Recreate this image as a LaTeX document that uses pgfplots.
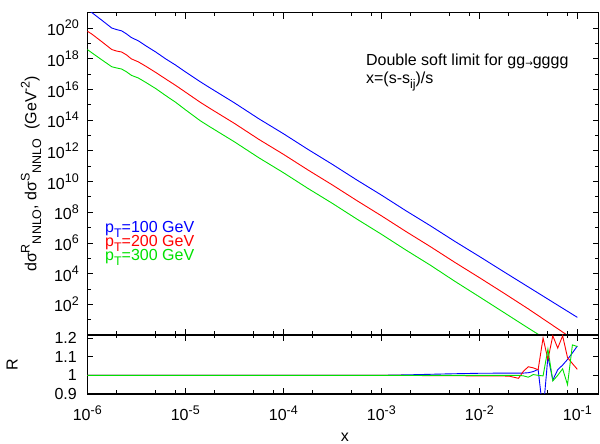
\documentclass[border=0pt]{standalone}
\usepackage{fontspec}
\setmainfont{Liberation Sans}
\newfontfamily\dejavu{DejaVu Sans}
\usepackage{pgfplots}
\pgfplotsset{compat=1.18}
\definecolor{gpblue}{RGB}{0,0,255}
\definecolor{gpred}{RGB}{255,0,0}
\definecolor{gpgreen}{RGB}{0,225,0}
\newcommand\sups[1]{\raisebox{0.42em}{\fontsize{12.5}{12}\selectfont #1}}
\newcommand\subs[1]{\raisebox{-0.3em}{\fontsize{12.5}{12}\selectfont #1}}
\newcommand\tp[1]{10\sups{#1}}
\begin{document}
\fontsize{16}{19}\selectfont
\begin{tikzpicture}
\path[use as bounding box] (0pt,0pt) rectangle (600pt,444pt);
% main panel
\begin{axis}[scale only axis, width=511.2pt, height=322.3pt, at={(87.3pt,109pt)}, anchor=south west,
  xmode=log, ymode=log, xmin=1e-6, xmax=0.1644, ymin=1, ymax=1e21,
  tick align=inside, major tick length=6pt, minor tick length=3.5pt,
  every tick/.style={black, line width=0.8pt},
  axis line style={line width=1.3pt},
  xtick={1e-6,1e-5,1e-4,1e-3,1e-2,1e-1},
  minor xtick={2e-6,5e-6,8e-6,2e-5,5e-5,8e-5,2e-4,5e-4,8e-4,2e-3,5e-3,8e-3,2e-2,5e-2,8e-2},
  xticklabels={},
  ytick={1e2,1e4,1e6,1e8,1e10,1e12,1e14,1e16,1e18,1e20},
  yticklabels={\tp{2},\tp{4},\tp{6},\tp{8},\tp{10},\tp{12},\tp{14},\tp{16},\tp{18},\tp{20}},
  minor ytick={1e1,1e3,1e5,1e7,1e9,1e11,1e13,1e15,1e17,1e19},
  yticklabel style={xshift=-3pt},
  ylabel={dσ\sups{R}\subs{NNLO}, dσ\sups{S}\subs{NNLO}\ \ (GeV\sups{-2})},
  ylabel style={at={(axis description cs:-0.110,0.5)}, anchor=center},
]
\addplot[gpblue, line width=0.9pt] coordinates {
(1e-6,1.7e21) (1.117e-6,1e21) (1.413e-6,3.16e20) (1.778e-6,1e20) (1.995e-6,7.94e19) (2.239e-6,6.6e19) (2.512e-6,4.17e19) (2.818e-6,2.4e19) (3.311e-6,1.48e19) (3.981e-6,6.8e18) (5.012e-6,2.7e18) (6.31e-6,9.8e17) (7.943e-6,3.9e17) (1e-5,1.41e17) (1.422e-5,3.16e16) (1.778e-5,1.29e16) (3.162e-5,1.35e15) (5.623e-5,1.23e14) (1e-4,1.32e13) (1.778e-4,1.26e12) (3.162e-4,1.32e11) (5.623e-4,1.26e10) (1e-3,1.32e9) (1.778e-3,1.26e8) (3.162e-3,1.32e7) (5.623e-3,1.26e6) (1e-2,1.32e5) (1.778e-2,1.32e4) (3.162e-2,1.35e3) (5.623e-2,138) (0.1,14.1)
};
\addplot[gpred, line width=0.9pt] coordinates {
(1e-6,6.3e19) (1.117e-6,3.98e19) (1.413e-6,1.26e19) (1.778e-6,3.98e18) (1.995e-6,3.16e18) (2.239e-6,2.75e18) (2.512e-6,1.78e18) (2.818e-6,9.8e17) (3.311e-6,6.3e17) (3.981e-6,3.16e17) (5.012e-6,1.26e17) (6.31e-6,4.8e16) (7.943e-6,1.86e16) (1e-5,6.8e15) (1.422e-5,1.45e15) (1.778e-5,5.9e14) (3.162e-5,6.2e13) (5.623e-5,5.6e12) (1e-4,6.0e11) (1.778e-4,5.75e10) (3.162e-4,6.0e9) (5.623e-4,5.75e8) (1e-3,5.9e7) (1.778e-3,5.6e6) (3.162e-3,5.75e5) (5.623e-3,5.4e4) (1e-2,5.5e3) (1.778e-2,537) (3.162e-2,50) (5.623e-2,4.2) (0.1,0.35)
};
\addplot[gpgreen, line width=0.9pt] coordinates {
(1e-6,3.98e18) (1.117e-6,2.4e18) (1.413e-6,8.3e17) (1.778e-6,3.0e17) (1.995e-6,2.5e17) (2.239e-6,2.14e17) (2.512e-6,1.41e17) (2.818e-6,8.3e16) (3.311e-6,5.6e16) (3.981e-6,2.8e16) (5.012e-6,1.12e16) (6.31e-6,3.98e15) (7.943e-6,1.48e15) (1e-5,4.8e14) (1.422e-5,9.1e13) (1.778e-5,3.7e13) (3.162e-5,3.9e12) (5.623e-5,3.55e11) (1e-4,3.8e10) (1.778e-4,3.6e9) (3.162e-4,3.8e8) (5.623e-4,3.6e7) (1e-3,3.7e6) (1.778e-3,3.47e5) (3.162e-3,3.55e4) (5.623e-3,3.16e3) (1e-2,309) (1.778e-2,29.5) (3.162e-2,2.8) (5.623e-2,0.28) (0.1,0.028)
};
\node[anchor=base west, inner sep=0pt, text=gpblue] at (rel axis cs:0.0346,0.3174) {p\subs{T}=100 GeV};
\node[anchor=base west, inner sep=0pt, text=gpred] at (rel axis cs:0.0346,0.274) {p\subs{T}=200 GeV};
\node[anchor=base west, inner sep=0pt, text=gpgreen] at (rel axis cs:0.0346,0.2305) {p\subs{T}=300 GeV};
\node[anchor=base west, inner sep=0pt] at (rel axis cs:0.545,0.8377) {Double soft limit for gg\raisebox{-0.12em}{\dejavu\fontsize{9}{9}\selectfont →}gggg};
\node[anchor=base west, inner sep=0pt] at (rel axis cs:0.545,0.7807) {x=(s-s\subs{ij})/s};
\end{axis}
% ratio panel
\begin{axis}[scale only axis, width=511.2pt, height=59pt, at={(87.3pt,50pt)}, anchor=south west,
  xmode=log, xmin=1e-6, xmax=0.1644, ymin=0.9, ymax=1.216,
  tick align=inside, major tick length=6pt, minor tick length=3.5pt,
  every tick/.style={black, line width=0.8pt},
  axis line style={line width=1.3pt},
  xtick={1e-6,1e-5,1e-4,1e-3,1e-2,1e-1},
  minor xtick={2e-6,5e-6,8e-6,2e-5,5e-5,8e-5,2e-4,5e-4,8e-4,2e-3,5e-3,8e-3,2e-2,5e-2,8e-2},
  ytick={0.9,1,1.1,1.2}, yticklabels={0.9,1,1.1,1.2},
  yticklabel style={xshift=-5pt},
  xticklabels={\tp{-6},\tp{-5},\tp{-4},\tp{-3},\tp{-2},\tp{-1}},
  xticklabel style={yshift=-6pt},
  ylabel={R}, ylabel style={at={(axis description cs:-0.147,0.49)}, anchor=center},
  xlabel={x}, xlabel style={at={(axis description cs:0.504,-0.73)}, anchor=center},
]
\addplot[gpblue, line width=0.9pt] coordinates {
(1e-6,1) (1e-3,1.0) (2e-3,1.003) (5e-3,1.008) (1e-2,1.011) (0.0224,1.012) (0.0251,1.012) (0.0282,1.012) (0.0316,1.014) (0.0355,1.02) (0.0398,1.032) (0.0447,0.80) (0.0501,1.10) (0.0562,0.975) (0.0631,1.03) (0.0708,1.055) (0.0794,1.085) (0.0891,1.12) (0.1,1.157)
};
\addplot[gpred, line width=0.9pt] coordinates {
(1e-6,1) (1e-3,1.0) (5e-3,0.998) (1e-2,0.997) (0.02,0.996) (0.0224,0.99) (0.0251,0.984) (0.0282,1.022) (0.0316,1.046) (0.0355,1.04) (0.0398,1.03) (0.0447,1.20) (0.0501,1.085) (0.0562,1.212) (0.0631,1.146) (0.0708,1.212) (0.0794,1.095) (0.0891,1.063) (0.1,1.032)
};
\addplot[gpgreen, line width=0.9pt] coordinates {
(1e-6,1) (0.0224,1.0) (0.0251,1.0) (0.0282,0.997) (0.0316,0.99) (0.0355,1.004) (0.0398,1.0) (0.0447,0.997) (0.0501,1.14) (0.0562,0.97) (0.0631,1.0) (0.0708,1.035) (0.0794,0.95) (0.0891,1.163) (0.1,1.154)
};
\end{axis}
\end{tikzpicture}
\end{document}
